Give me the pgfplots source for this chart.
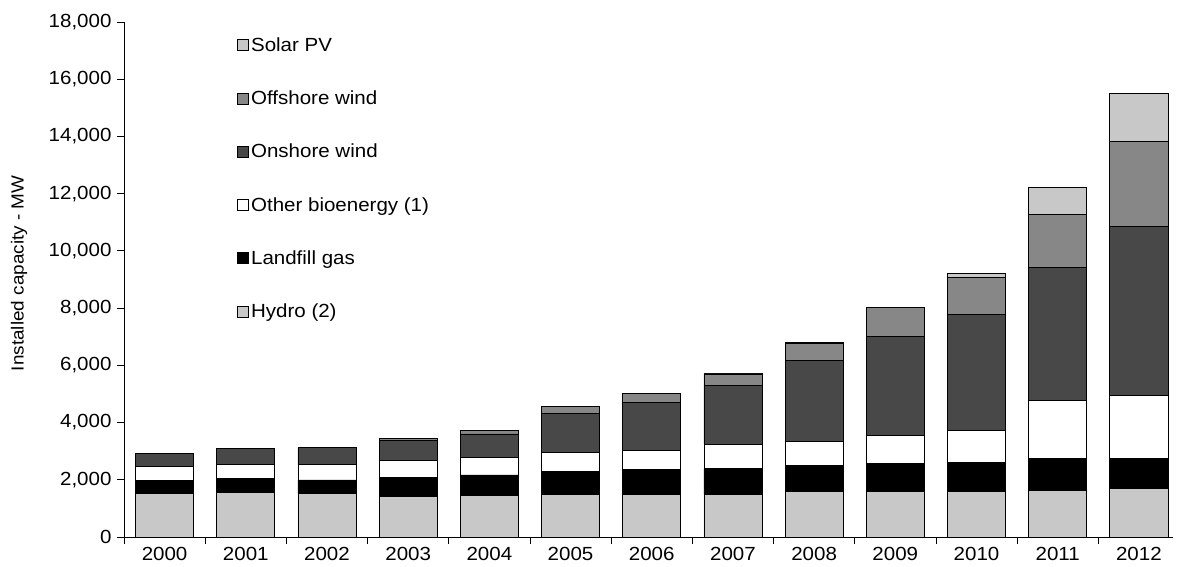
\documentclass[border=0pt]{standalone}
\usepackage{pgfplots}
\pgfplotsset{compat=1.18}
\usepackage{pgfplotstable}
\usepackage{fontspec}
\setmainfont{Liberation Sans}[FakeStretch=1.08]
\definecolor{hydro}{HTML}{C8C8C8}
\definecolor{onshore}{HTML}{484848}
\definecolor{offshore}{HTML}{878787}
\definecolor{solar}{HTML}{C8C8C8}
\pgfplotstableread{
x hydro landfill bio onshore offshore solar
0 1530 460 480 460 4 0
1 1560 480 490 560 4 0
2 1530 465 535 590 4 0
3 1425 650 605 700 60 6
4 1460 710 620 810 120 8
5 1490 815 655 1350 240 11
6 1490 860 675 1680 310 14
7 1490 895 865 2050 400 18
8 1590 910 850 2820 600 22
9 1600 970 980 3470 990 27
10 1600 1015 1110 4055 1305 120
11 1636 1120 2020 4640 1860 945
12 1685 1070 2190 5900 2985 1680
}\datatable
\begin{document}
\begin{tikzpicture}
\useasboundingbox (-124pt,-30pt) rectangle (1053pt,537pt);
\begin{axis}[
  scale only axis,
  width=1049pt, height=515pt,
  ybar stacked,
  bar width=0.715,
  xmin=-0.5, xmax=12.42,
  ymin=0, ymax=18000,
  axis x line=bottom, axis y line=left,
  axis line style={-, line width=0.8pt},
  xtick={0,...,12},
  xticklabels={2000,2001,2002,2003,2004,2005,2006,2007,2008,2009,2010,2011,2012},
  minor xtick={-0.5,0.5,...,11.5},
  major x tick style={draw=none},
  minor tick length=7pt,
  major tick length=7pt,
  tick align=outside,
  tick style={black, line width=0.8pt},
  ytick={0,2000,...,18000},
  scaled y ticks=false,
  /pgf/number format/.cd, 1000 sep={,}, assume math mode=true,
  /pgfplots/.cd,
  tick label style={font=\fontsize{19}{22}\selectfont, text=black},
  yticklabel style={xshift=-2pt},
  ylabel={Installed capacity - MW},
  every axis y label/.style={at={(axis description cs:-0.1,0.512)}, rotate=90, anchor=center, font=\fontsize{17.5}{20}\selectfont},
  legend style={draw=none, fill=none, at={(0.108,0.974)}, anchor=north west,
    font=\fontsize{19}{22}\selectfont, row sep=34pt, inner sep=0pt,
    /tikz/every even column/.append style={column sep=1pt}},
  legend cell align=left,
  reverse legend,
  legend image code/.code={\draw[#1, draw=black, line width=0.6pt] (0pt,-5.5pt) rectangle (11pt,5.5pt);},
  every axis plot/.append style={draw=black, line width=0.8pt},
]
\addplot[fill=hydro] table[x=x,y=hydro]{\datatable};
\addlegendentry{Hydro (2)}
\addplot[fill=black] table[x=x,y=landfill]{\datatable};
\addlegendentry{Landfill gas}
\addplot[fill=white] table[x=x,y=bio]{\datatable};
\addlegendentry{Other bioenergy (1)}
\addplot[fill=onshore] table[x=x,y=onshore]{\datatable};
\addlegendentry{Onshore wind}
\addplot[fill=offshore] table[x=x,y=offshore]{\datatable};
\addlegendentry{Offshore wind}
\addplot[fill=solar] table[x=x,y=solar]{\datatable};
\addlegendentry{Solar PV}
\end{axis}
\end{tikzpicture}
\end{document}
